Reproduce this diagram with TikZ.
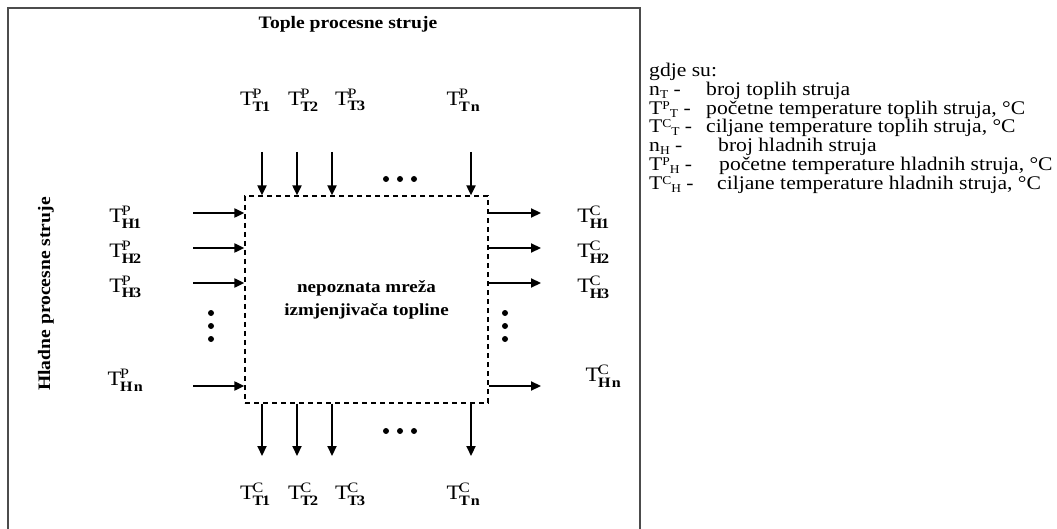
\documentclass[tikz,border=0pt]{standalone}
\usepackage{fontspec}
\setmainfont{Liberation Serif}[FakeStretch=1.12]
\usetikzlibrary{arrows.meta}
\newcommand\tlab[2]{$\mathrm{T}^{\mathrm{#1}}_{\mathbf{#2}}$}
\newcommand\lsup[1]{\raisebox{0.6ex}{\fontsize{12}{12}\selectfont #1}}
\newcommand\lsub[1]{\raisebox{-0.3ex}{\fontsize{12}{12}\selectfont #1}}
\begin{document}
\begin{tikzpicture}[x=1pt,y=-1pt,
  arr/.style={line width=2.2pt,-{Triangle[length=10pt,width=9pt]}},
  lbl/.style={inner sep=0pt,font=\fontsize{20.5}{22}\selectfont},
  leg/.style={anchor=base west,inner sep=0pt,font=\fontsize{19.3}{19}\selectfont},
  ttl/.style={inner sep=0pt,font=\fontsize{17.5}{20}\selectfont\bfseries},
  dotm/.style={circle,fill,inner sep=0pt,minimum size=6pt},
  frame/.style={line width=1.5pt,draw=black!70},
  netbox/.style={draw,dashed,line width=1.4pt,dash pattern=on 5pt off 4pt,
    minimum width=243pt,minimum height=207pt,inner sep=0pt,align=center,
    font=\fontsize{17}{23}\selectfont\bfseries}]
\useasboundingbox (0,0) rectangle (1057,529);
% outer frame
\draw[frame] (8,529) -- (8,8) -- (640,8) -- (640,529);
% titles
\node[ttl] (top) at (348,24) {Tople procesne struje};
\node[ttl,rotate=90] (side) at (46,294) {Hladne procesne struje};
% network box
\node[netbox] (net) at (366.5,299.5) {nepoznata mreža\\izmjenjivača topline};
% top inputs
\foreach \n/\x/\lx/\s in {1/262/255/T1,2/297/303/T2,3/332/350/T3,n/471/463/T\,n}{
  \node[lbl] (tp\n) at (\lx,100) {\tlab{P}{\s}};
  \coordinate (ta\n) at (\x,152);
  \draw[arr] (ta\n) -- (ta\n |- net.north);
  \coordinate (ba\n) at (\x,456);
  \draw[arr] (ba\n |- net.south) -- (ba\n);
  \node[lbl] (tc\n) at (\lx,494) {\tlab{C}{\s}};
}
% left inputs / right outputs
\foreach \n/\y/\ly/\ry/\s/\rx in {1/213/217/217/H1/593,2/248/252/252/H2/593,3/283/287/287/H3/593,n/386/380/376/H\,n/603}{
  \node[lbl] (hp\n) at (125,\ly) {\tlab{P}{\s}};
  \coordinate (la\n) at (193,\y);
  \draw[arr] (la\n) -- (la\n -| net.west);
  \coordinate (ra\n) at (541,\y);
  \draw[arr] (ra\n -| net.east) -- (ra\n);
  \node[lbl] (hc\n) at (\rx,\ry) {\tlab{C}{\s}};
}
% dots
\foreach \x [count=\i] in {386,400,414}{
  \node[dotm] (dt\i) at (\x,179) {};
  \node[dotm] (db\i) at (\x,431) {};
}
\foreach \y [count=\i] in {313,326,339}{
  \node[dotm] (dl\i) at (211,\y) {};
  \node[dotm] (dr\i) at (505,\y) {};
}
% legend
\node[leg] (g0) at (649,77) {gdje su:};
\node[leg] (g1a) at (649,96) {n\lsub{T} -};
\node[leg] (g1b) at (706,96) {broj toplih struja};
\node[leg] (g2a) at (649,114.5) {T\lsup{P}\lsub{T} -};
\node[leg] (g2b) at (706,114.5) {početne temperature toplih struja, °C};
\node[leg] (g3a) at (649,133) {T\lsup{C}\lsub{T} -};
\node[leg] (g3b) at (706,133) {ciljane temperature toplih struja, °C};
\node[leg] (g4a) at (649,152) {n\lsub{H} -};
\node[leg] (g4b) at (718,152) {broj hladnih struja};
\node[leg] (g5a) at (649,171) {T\lsup{P}\lsub{H} -};
\node[leg] (g5b) at (719,171) {početne temperature hladnih struja, °C};
\node[leg] (g6a) at (649,189.5) {T\lsup{C}\lsub{H} -};
\node[leg] (g6b) at (717,189.5) {ciljane temperature hladnih struja, °C};
\end{tikzpicture}
\end{document}
